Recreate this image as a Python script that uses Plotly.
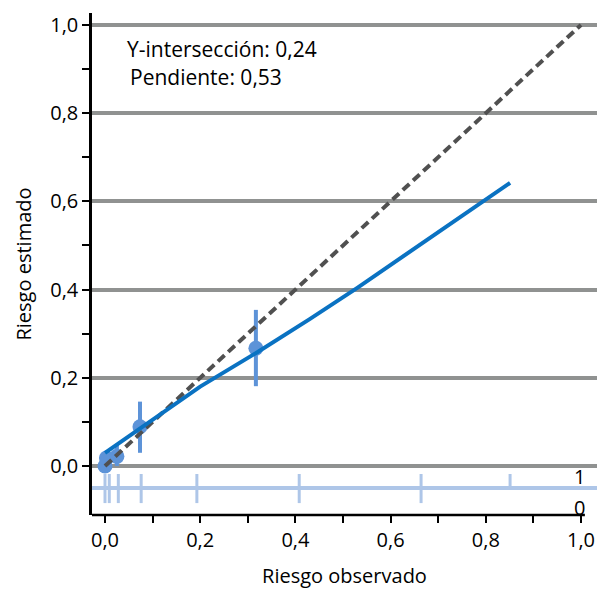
import plotly.graph_objects as go

# ---- data ----
pt_x = [0.0, 0.003, 0.025, 0.0735, 0.317]
pt_y = [0.0, 0.018, 0.022, 0.089, 0.267]
pt_lo = [0.0, 0.008, 0.0, 0.030, 0.181]
pt_hi = [0.004, 0.028, 0.050, 0.146, 0.354]

curve_x = [0.0, 0.08, 0.2, 0.32, 0.43, 0.53, 0.68, 0.79, 0.851]
curve_y = [0.03, 0.09, 0.18, 0.258, 0.333, 0.404, 0.514, 0.597, 0.642]

ref_x = [0.0, 1.0]
ref_y = [0.0, 1.0]

spike_event_x = [0.0, 0.009, 0.028, 0.076, 0.193, 0.408, 0.664, 0.851]
spike_nonevent_x = [0.0, 0.009, 0.028, 0.076, 0.193, 0.408, 0.664]

tick_vals = [0.0, 0.2, 0.4, 0.6, 0.8, 1.0]
tick_text = ["0,0", "0,2", "0,4", "0,6", "0,8", "1,0"]
minor_vals = [0.1, 0.3, 0.5, 0.7, 0.9]

intercept_text = "Y-intersección: 0,24"
slope_text = "Pendiente: 0,53"
x_title = "Riesgo observado"
y_title = "Riesgo estimado"

# ---- style ----
FONT = "Open Sans"
FS = 20
FS_ANN = 21
C_GRID = "#909291"
C_CURVE = "#0a72c2"
C_PT = "#5d93d8"
C_SPIKE = "#aec6e8"
C_REF = "#505050"
SPIKE_BASE = -0.05
SPIKE_UP = -0.018
SPIKE_DOWN = -0.084

fig = go.Figure()

# spike histogram
sx, sy = [], []
for v in spike_event_x:
    sx += [v, v, None]
    sy += [SPIKE_BASE, SPIKE_UP, None]
for v in spike_nonevent_x:
    sx += [v, v, None]
    sy += [SPIKE_BASE, SPIKE_DOWN, None]
fig.add_trace(go.Scatter(x=sx, y=sy, mode="lines",
                         line=dict(color=C_SPIKE, width=3),
                         hoverinfo="skip", showlegend=False))

# grouped points with error bars
fig.add_trace(go.Scatter(
    x=pt_x, y=pt_y, mode="markers",
    marker=dict(color=C_PT, size=15),
    error_y=dict(type="data", symmetric=False,
                 array=[h - y for h, y in zip(pt_hi, pt_y)],
                 arrayminus=[y - l for y, l in zip(pt_y, pt_lo)],
                 color=C_PT, thickness=4, width=0),
    showlegend=False))

# reference diagonal
fig.add_trace(go.Scatter(x=ref_x, y=ref_y, mode="lines",
                         line=dict(color=C_REF, width=4, dash="9px,5px"),
                         showlegend=False))

# calibration curve
fig.add_trace(go.Scatter(x=curve_x, y=curve_y, mode="lines",
                         line=dict(color=C_CURVE, width=4),
                         showlegend=False))

# spike baseline
fig.add_shape(type="line", xref="paper", yref="y", x0=0, x1=1,
              y0=SPIKE_BASE, y1=SPIKE_BASE,
              line=dict(color=C_SPIKE, width=4), layer="below")

# x axis line (runs up to the last tick)
fig.add_shape(type="line", xref="paper", yref="paper", x0=0, x1=0.976,
              y0=0, y1=0, line=dict(color="black", width=2.5))

fig.add_annotation(x=1.013, y=-0.024, xref="x", yref="y", text="1",
                   showarrow=False, xanchor="right", yanchor="middle",
                   font=dict(family=FONT, size=FS, color="black"))
fig.add_annotation(x=1.013, y=-0.095, xref="x", yref="y", text="0",
                   showarrow=False, xanchor="right", yanchor="middle",
                   font=dict(family=FONT, size=FS, color="black"))
fig.add_annotation(x=0.041, y=0.946, xref="x", yref="y", text=intercept_text,
                   showarrow=False, xanchor="left", yanchor="middle",
                   font=dict(family=FONT, size=FS_ANN, color="black"))
fig.add_annotation(x=0.048, y=0.881, xref="x", yref="y", text=slope_text,
                   showarrow=False, xanchor="left", yanchor="middle",
                   font=dict(family=FONT, size=FS_ANN, color="black"))

fig.update_layout(
    width=601, height=590,
    margin=dict(l=92, r=4, t=13, b=75),
    paper_bgcolor="white", plot_bgcolor="white",
    font=dict(family=FONT, size=FS, color="black"),
    showlegend=False,
    xaxis=dict(range=[-0.0273, 1.0336], tickmode="array",
               tickvals=tick_vals, ticktext=tick_text,
               ticks="outside", ticklen=7, tickwidth=2, tickcolor="black",
               minor=dict(tickmode="array", tickvals=minor_vals, ticks="outside",
                          ticklen=7, tickwidth=2, tickcolor="black", showgrid=False),
               showgrid=False, zeroline=False, showline=False,
               tickfont=dict(family=FONT, size=FS),
               title=dict(text=x_title, standoff=16,
                          font=dict(family=FONT, size=FS))),
    yaxis=dict(range=[-0.111, 1.027], tickmode="array",
               tickvals=tick_vals, ticktext=tick_text,
               ticks="outside", ticklen=7, tickwidth=2, tickcolor="black",
               minor=dict(tickmode="array", tickvals=minor_vals, ticks="outside",
                          ticklen=7, tickwidth=2, tickcolor="black", showgrid=False),
               showgrid=True, gridcolor=C_GRID, gridwidth=4,
               zeroline=False, showline=True, linecolor="black", linewidth=2.5,
               tickfont=dict(family=FONT, size=FS),
               title=dict(text=y_title, standoff=14,
                          font=dict(family=FONT, size=FS))),
)

fig.write_html("out.html")
